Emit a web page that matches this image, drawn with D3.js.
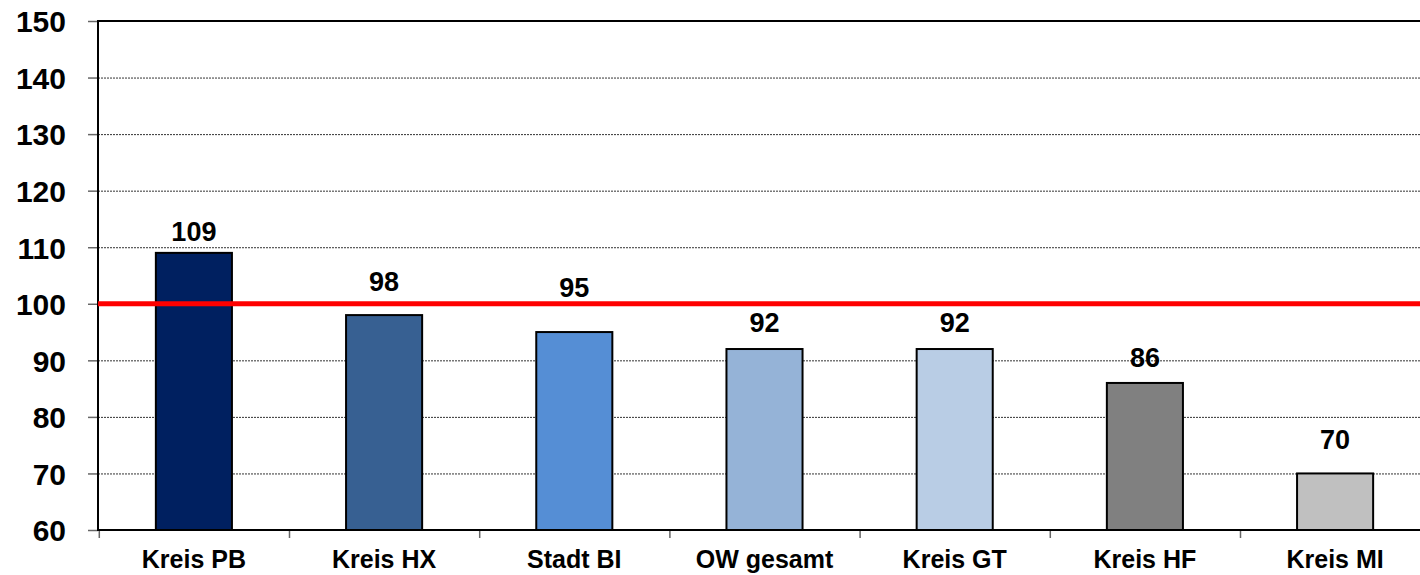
<!DOCTYPE html>
<html>
<head>
<meta charset="utf-8">
<script src="https://cdn.jsdelivr.net/npm/d3@7"></script>
<style>
  body { margin: 0; background: #fff; }
  text { font-family: "Liberation Sans", Arial, sans-serif; font-weight: bold; fill: #000; }
</style>
</head>
<body>
<script>
  // data
  let categories = ["Kreis PB", "Kreis HX", "Stadt BI", "OW gesamt", "Kreis GT", "Kreis HF", "Kreis MI"];
  let values = [109, 98, 95, 92, 92, 86, 70];
  let barColors = ["#002060", "#376092", "#558ED5", "#95B3D7", "#B9CDE5", "#808080", "#C0C0C0"];
  let yTicks = [60, 70, 80, 90, 100, 110, 120, 130, 140, 150];
  let referenceValue = 100;

  let width = 1420, height = 575;
  // labels were nudged by hand in the original, px above bar top
  let labelGap = [12, 24, 35, 17, 17, 16, 24];

  let svg = d3.select("body").append("svg")
    .attr("width", width).attr("height", height);

  let x = d3.scaleBand().domain(categories).range([98.8, 1430.2]).padding(0);
  let y = d3.scaleLinear().domain([60, 150]).range([530, 21]);
  let barW = x.bandwidth() * 0.4;

  // dotted grid
  svg.append("g")
    .selectAll("line")
    .data(yTicks.filter(d => d > 60 && d < 150))
    .enter()
    .append("line")
      .attr("x1", 98).attr("x2", width)
      .attr("y1", d => y(d) + 0.5).attr("y2", d => y(d) + 0.5)
      .style("stroke", "#333")
      .style("stroke-width", 1)
      .style("stroke-dasharray", "2,1");

  // top border
  svg.append("line")
    .attr("x1", 98).attr("x2", width)
    .attr("y1", y(150)).attr("y2", y(150))
    .style("stroke", "#000").style("stroke-width", 2);

  // y axis
  let yAxis = d3.axisLeft(y).tickValues(yTicks).tickSize(10).tickPadding(22);
  let gy = svg.append("g").attr("transform", "translate(98,0)").call(yAxis);
  gy.select(".domain").remove();
  gy.selectAll(".tick line").style("stroke", "#666").style("stroke-width", 1.5);
  gy.selectAll(".tick text")
    .style("font-size", "30px")
    .style("font-family", "Liberation Sans, Arial, sans-serif")
    .style("font-weight", "bold")
    .attr("dy", "0.36em")
    .attr("fill", "#000");

  // bars
  svg.append("g")
    .selectAll("rect")
    .data(values)
    .enter()
    .append("rect")
      .attr("x", (d, i) => x(categories[i]) + (x.bandwidth() - barW) / 2)
      .attr("y", d => y(d))
      .attr("width", barW)
      .attr("height", d => y(60) - y(d))
      .style("fill", (d, i) => barColors[i])
      .style("stroke", "#000")
      .style("stroke-width", 2);

  // x axis
  let xAxis = d3.axisBottom(d3.scaleLinear().domain([0, 7]).range([98.8, 1430.2]))
    .tickValues(d3.range(0, 8)).tickSize(8).tickFormat("");
  let gx = svg.append("g").attr("transform", "translate(0,530)").call(xAxis);
  gx.select(".domain").remove();
  gx.selectAll(".tick line").style("stroke", "#666").style("stroke-width", 1.5);

  svg.append("line")
    .attr("x1", 98).attr("x2", width)
    .attr("y1", 530).attr("y2", 530)
    .style("stroke", "#000").style("stroke-width", 2);

  svg.append("line")
    .attr("x1", 98).attr("x2", 98)
    .attr("y1", y(150) - 1).attr("y2", 531)
    .style("stroke", "#000").style("stroke-width", 2);

  // category labels
  svg.append("g")
    .selectAll("text")
    .data(categories)
    .enter()
    .append("text")
      .attr("x", d => x(d) + x.bandwidth() / 2)
      .attr("y", 568)
      .attr("text-anchor", "middle")
      .style("font-size", "25px")
      .text(d => d);

  // red reference line
  svg.append("line")
    .attr("x1", 98).attr("x2", width)
    .attr("y1", y(referenceValue)).attr("y2", y(referenceValue))
    .style("stroke", "#ff0000").style("stroke-width", 5);

  // value labels
  svg.append("g")
    .selectAll("text")
    .data(values)
    .enter()
    .append("text")
      .attr("x", (d, i) => x(categories[i]) + x.bandwidth() / 2)
      .attr("y", (d, i) => y(d) - labelGap[i])
      .attr("text-anchor", "middle")
      .style("font-size", "27px")
      .text(d => d);
</script>
</body>
</html>
